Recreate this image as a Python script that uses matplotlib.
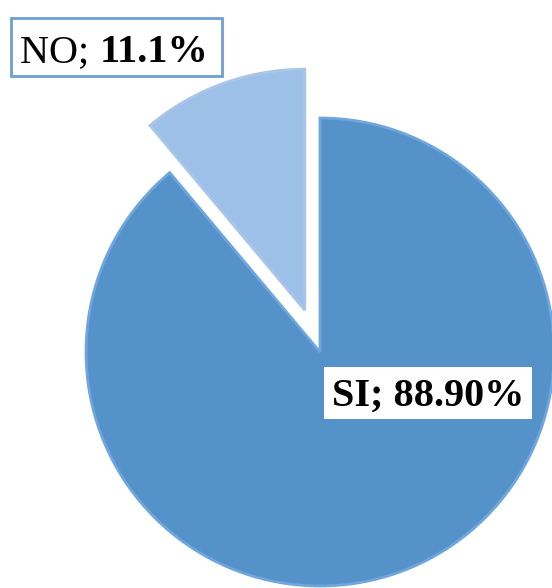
import matplotlib
matplotlib.use("Agg")
import matplotlib.pyplot as plt
from matplotlib.patches import Rectangle

labels = ["SI", "NO"]
values = [88.9, 11.1]
label_texts = ["SI; 88.90%", "NO; 11.1%"]
colors = ["#5592CA", "#9DC0E8"]

W, H = 552, 588
fig = plt.figure(figsize=(W / 100, H / 100), dpi=100)
ax = fig.add_axes([0, 0, 1, 1])

R = 234.0
CX, CY = 320.0, 352.0


def px(x, y):
    return (x - CX) / R, (CY - y) / R


wedges, _ = ax.pie(values, colors=colors, startangle=90, counterclock=False,
                   explode=[0, 0.19], radius=1.0,
                   wedgeprops=dict(edgecolor="#7FB2E6", linewidth=2.0))
wedges[0].set_edgecolor("#6FA6DE")
wedges[1].set_edgecolor("#A9C6E6")
wedges[1].set_radius(1.03)

ax.set_xlim(px(0, 0)[0], px(W, 0)[0])
ax.set_ylim(px(0, H)[1], px(0, 0)[1])
ax.set_aspect("equal")
ax.axis("off")

# NO label box
x0, y0 = px(11, 76)
x1, y1 = px(222, 18)
ax.add_patch(Rectangle((x0, y0), x1 - x0, y1 - y0, facecolor="white",
                       edgecolor="#6E9FD2", linewidth=2, zorder=5))
tx, ty = px(20, 62)
t1 = ax.text(tx, ty, "NO; ", fontfamily="Liberation Serif", fontsize=29,
             fontweight="normal", ha="left", va="baseline", zorder=6)
fig.canvas.draw()
bb = t1.get_window_extent()
inv = ax.transData.inverted()
xe = inv.transform((bb.x1, bb.y0))[0]
ax.text(xe, ty, "11.1%", fontfamily="Liberation Serif", fontsize=29,
        fontweight="bold", ha="left", va="baseline", zorder=6)

# SI label box
x0, y0 = px(324, 419)
x1, y1 = px(532, 367)
ax.add_patch(Rectangle((x0, y0), x1 - x0, y1 - y0, facecolor="white",
                       edgecolor="none", zorder=5))
tx, ty = px(428, 406)
ax.text(tx, ty, label_texts[0], fontfamily="Liberation Serif", fontsize=29,
        fontweight="bold", ha="center", va="baseline", zorder=6)

fig.savefig("out.png", dpi=100)
